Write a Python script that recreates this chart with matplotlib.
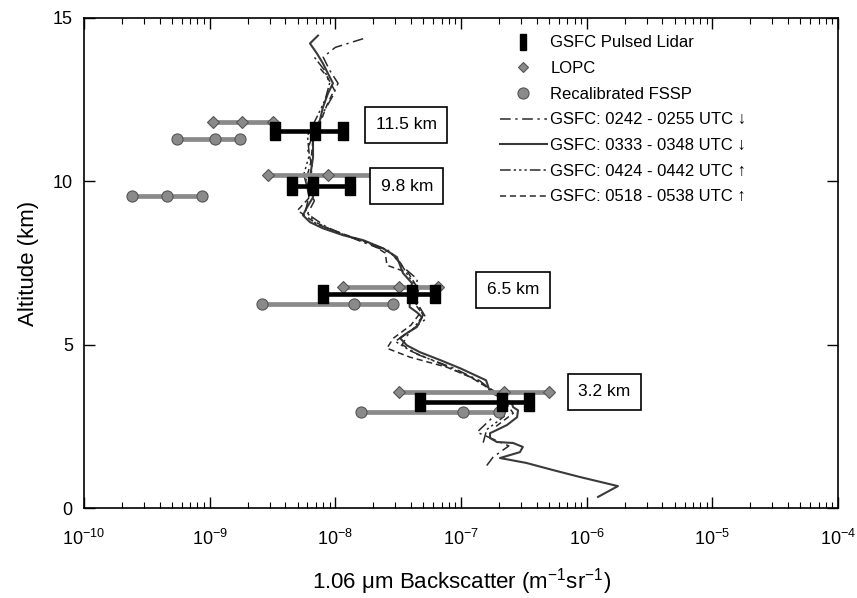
import numpy as np
import matplotlib
matplotlib.use("Agg")
import matplotlib.pyplot as plt
from matplotlib.ticker import LogLocator, FixedLocator, NullLocator, NullFormatter, LogFormatterSciNotation

plt.rcParams['font.family'] = ['Liberation Sans', 'DejaVu Sans']
plt.rcParams['mathtext.fontset'] = 'custom'
plt.rcParams['mathtext.rm'] = 'Liberation Sans'
plt.rcParams['mathtext.it'] = 'Liberation Sans:italic'

# ---------------- data ----------------
# GSFC pulsed lidar: altitude, low, centre, high
lidar_alt = [11.55, 9.85, 6.55, 3.25]
lidar_lo = [3.3e-9, 4.5e-9, 7.9e-9, 4.7e-8]
lidar_mid = [6.9e-9, 6.6e-9, 4.1e-8, 2.1e-7]
lidar_hi = [1.15e-8, 1.3e-8, 6.2e-8, 3.5e-7]

# LOPC
lopc_alt = [11.8, 10.2, 6.75, 3.55]
lopc_lo = [1.07e-9, 2.9e-9, 1.15e-8, 3.2e-8]
lopc_mid = [1.8e-9, 8.7e-9, 3.2e-8, 2.2e-7]
lopc_hi = [3.2e-9, 2.1e-8, 6.5e-8, 5.0e-7]

# Recalibrated FSSP
fssp_alt = [11.3, 9.55, 6.25, 2.95]
fssp_lo = [5.5e-10, 2.4e-10, 2.6e-9, 1.6e-8]
fssp_mid = [1.1e-9, 4.6e-10, 1.4e-8, 1.04e-7]
fssp_hi = [1.74e-9, 8.7e-10, 2.9e-8, 2.0e-7]

# GSFC profiles
alt_0333 = [0.34, 0.67, 0.95, 1.16, 1.38, 1.53, 1.71, 1.87, 1.99, 2.02, 2.14, 2.29, 2.39,
            2.54, 2.78, 2.99, 3.09, 3.21, 3.55, 3.91, 4.28, 4.53, 4.77, 4.98, 5.20, 5.35,
            5.54, 5.84, 5.99, 6.15, 6.57, 6.88, 7.19, 7.68, 7.95, 8.20, 8.35, 8.56, 8.75,
            8.96, 9.20, 9.51, 10.12, 10.73, 11.47, 11.87, 12.26, 12.69, 13.00, 13.30, 13.61,
            13.91, 14.22, 14.46]
bs_0333 = [1.23e-6, 1.77e-6, 8.8e-7, 5.4e-7, 3.3e-7, 2.04e-7, 2.94e-7, 3.1e-7, 2.59e-7,
           1.93e-7, 1.70e-7, 1.70e-7, 1.93e-7, 2.32e-7, 2.79e-7, 2.84e-7, 2.59e-7, 2.54e-7,
           1.70e-7, 1.58e-7, 9.8e-8, 6.8e-8, 4.7e-8, 3.7e-8, 3.27e-8, 3.7e-8, 4.45e-8,
           4.9e-8, 4.45e-8, 3.9e-8, 3.9e-8, 4.07e-8, 3.45e-8, 3.09e-8, 2.39e-8, 1.66e-8,
           1.15e-8, 7.96e-9, 6.28e-9, 5.52e-9, 5.94e-9, 6.64e-9, 6.28e-9, 6.64e-9, 6.64e-9,
           7.54e-9, 7.96e-9, 8.73e-9, 9.57e-9, 8.73e-9, 7.96e-9, 7.14e-9, 6.28e-9, 7.27e-9]

alt_0242 = [1.30, 1.56, 1.90, 2.32, 2.78, 3.10, 3.50, 3.90, 4.30, 4.70, 5.00, 5.40, 5.80,
            6.20, 6.60, 7.00, 7.40, 7.80, 8.20, 8.60, 9.00, 9.40, 9.90, 10.40, 11.00, 11.60,
            12.10, 12.60, 13.00, 13.40, 13.80, 14.10, 14.40]
bs_0242 = [1.6e-7, 1.8e-7, 2.4e-7, 1.34e-7, 1.79e-7, 2.3e-7, 1.9e-7, 1.4e-7, 8.5e-8,
           4.5e-8, 3.4e-8, 3.9e-8, 5.3e-8, 4.6e-8, 4.2e-8, 4.5e-8, 3.4e-8, 2.8e-8, 1.5e-8,
           8.5e-9, 6.0e-9, 6.8e-9, 6.0e-9, 6.6e-9, 6.0e-9, 7.0e-9, 8.0e-9, 9.5e-9, 1.05e-8,
           9.0e-9, 8.0e-9, 1.0e-8, 1.78e-8]

alt_0424 = [2.00, 2.40, 2.80, 3.20, 3.60, 4.00, 4.40, 4.80, 5.10, 5.50, 5.90, 6.30, 6.70,
            7.10, 7.50, 7.90, 8.30, 8.70, 9.10, 9.60, 10.20, 10.80, 11.40, 12.00, 12.50,
            13.00, 13.40, 13.80]
bs_0424 = [1.5e-7, 1.6e-7, 2.2e-7, 2.3e-7, 1.8e-7, 1.2e-7, 7.0e-8, 4.0e-8, 3.0e-8,
           4.2e-8, 5.0e-8, 4.3e-8, 4.6e-8, 3.8e-8, 3.3e-8, 2.6e-8, 1.3e-8, 7.0e-9, 5.8e-9,
           6.2e-9, 5.6e-9, 6.2e-9, 6.0e-9, 7.2e-9, 8.3e-9, 9.0e-9, 8.2e-9, 6.8e-9]

alt_0518 = [2.50, 2.90, 3.30, 3.70, 4.00, 4.31, 4.62, 4.89, 5.20, 5.60, 6.00, 6.40, 6.80,
            7.20, 7.43, 7.80, 8.10, 8.50, 8.80, 9.11, 9.50, 10.00, 10.60, 11.20, 11.80,
            12.30, 12.80, 13.20, 13.50]
bs_0518 = [1.9e-7, 2.6e-7, 2.2e-7, 1.6e-7, 1.2e-7, 7.7e-8, 3.9e-8, 2.57e-8, 2.9e-8,
           4.0e-8, 4.8e-8, 4.0e-8, 4.4e-8, 3.8e-8, 2.57e-8, 2.5e-8, 1.9e-8, 9.5e-9, 6.5e-9,
           5.0e-9, 6.2e-9, 5.8e-9, 6.4e-9, 6.6e-9, 7.6e-9, 8.5e-9, 9.8e-9, 8.6e-9, 7.4e-9]

x_ticks = [1e-10, 1e-9, 1e-8, 1e-7, 1e-6, 1e-5, 1e-4]
y_ticks = [0, 5, 10, 15]
range_labels = ["11.5 km", "9.8 km", "6.5 km", "3.2 km"]
legend_labels = ["GSFC Pulsed Lidar", "LOPC", "Recalibrated FSSP",
                 "GSFC: 0242 - 0255 UTC \u2193", "GSFC: 0333 - 0348 UTC \u2193",
                 "GSFC: 0424 - 0442 UTC \u2191", "GSFC: 0518 - 0538 UTC \u2191"]

# ---------------- figure ----------------
fig = plt.figure(figsize=(8.57, 5.98), dpi=100)
ax = fig.add_axes([0.098, 0.1505, 0.880, 0.8195])

cap_marker = [(-0.27, -0.5), (0.27, -0.5), (0.27, 0.5), (-0.27, 0.5), (-0.27, -0.5)]
leg_marker = [(-0.2, -0.5), (0.2, -0.5), (0.2, 0.5), (-0.2, 0.5), (-0.2, -0.5)]

# profiles
prof_color = '#2a2a2a'
l1, = ax.plot(bs_0242, alt_0242, color=prof_color, lw=1.1, ls=(0, (7, 3, 1.5, 3)), zorder=3)
l2, = ax.plot(bs_0333, alt_0333, color='#3a3a3a', lw=1.5, ls='-', zorder=3)
l3, = ax.plot(bs_0424, alt_0424, color=prof_color, lw=1.1, ls=(0, (7, 2, 1.5, 2, 1.5, 2, 1.5, 2)), zorder=3)
l4, = ax.plot(bs_0518, alt_0518, color=prof_color, lw=1.1, ls=(0, (4, 2.5)), zorder=3)

gray = '#8a8a8a'
edge = '#555555'
# FSSP
for a, lo, mid, hi in zip(fssp_alt, fssp_lo, fssp_mid, fssp_hi):
    ax.plot([lo, hi], [a, a], color=gray, lw=3.4, solid_capstyle='butt', zorder=4)
    ax.plot([lo, mid, hi], [a, a, a], ls='none', marker='o', ms=8,
            mfc=gray, mec=edge, mew=0.8, zorder=4)
# LOPC
for a, lo, mid, hi in zip(lopc_alt, lopc_lo, lopc_mid, lopc_hi):
    ax.plot([lo, hi], [a, a], color=gray, lw=3.4, solid_capstyle='butt', zorder=4)
    ax.plot([lo, mid, hi], [a, a, a], ls='none', marker='D', ms=6.5,
            mfc=gray, mec=edge, mew=0.8, zorder=4)
# Lidar
for a, lo, mid, hi in zip(lidar_alt, lidar_lo, lidar_mid, lidar_hi):
    ax.plot([lo, hi], [a, a], color='black', lw=3.3, solid_capstyle='butt', zorder=5)
    ax.plot([lo, mid, hi], [a, a, a], ls='none', marker=cap_marker, ms=12.5,
            mfc='black', mec='black', zorder=5)

# legend proxies
hd, = ax.plot([], [], ls='none', marker=leg_marker, ms=11.5, mfc='black', mec='black')
hl, = ax.plot([], [], ls='none', marker='D', ms=5.5, mfc=gray, mec=edge, mew=0.8)
hf, = ax.plot([], [], ls='none', marker='o', ms=8, mfc=gray, mec=edge, mew=0.8)

# range labels
label_pos = [(0.427, 0.782), (0.428, 0.657), (0.569, 0.445), (0.690, 0.237)]
for txt, (px, py) in zip(range_labels, label_pos):
    ax.text(px, py, txt, transform=ax.transAxes, ha='center', va='center', fontsize=12.5,
            bbox=dict(boxstyle='square,pad=0.6', fc='white', ec='black', lw=1.2), zorder=6)

ax.set_xscale('log')
ax.set_xlim(1e-10, 1e-4)
ax.set_ylim(0, 15)
ax.xaxis.set_major_locator(FixedLocator(x_ticks))
ax.xaxis.set_major_formatter(LogFormatterSciNotation())
ax.xaxis.set_minor_locator(LogLocator(base=10, subs=np.arange(2, 10), numticks=20))
ax.xaxis.set_minor_formatter(NullFormatter())
ax.yaxis.set_major_locator(FixedLocator(y_ticks))
ax.yaxis.set_minor_locator(NullLocator())
ax.tick_params(which='both', direction='in', top=True, right=True, labelsize=13)
ax.tick_params(which='major', length=8, width=1)
ax.tick_params(which='minor', length=4, width=0.8)
ax.tick_params(axis='x', which='major', pad=15)
ax.tick_params(axis='y', which='major', pad=8)
for s in ax.spines.values():
    s.set_linewidth(1.2)

ax.set_ylabel('Altitude (km)', fontsize=16, labelpad=10)
ax.set_xlabel('1.06 \u03bcm Backscatter (m$^{-1}$sr$^{-1}$)', fontsize=16, labelpad=12)

leg = ax.legend([hd, hl, hf, l1, l2, l3, l4], legend_labels, loc='upper left',
                bbox_to_anchor=(0.543, 0.978), frameon=False, fontsize=12,
                handlelength=2.8, handletextpad=0.2, labelspacing=0.64,
                borderaxespad=0.0, numpoints=1)

fig.savefig('out.png', dpi=100)
